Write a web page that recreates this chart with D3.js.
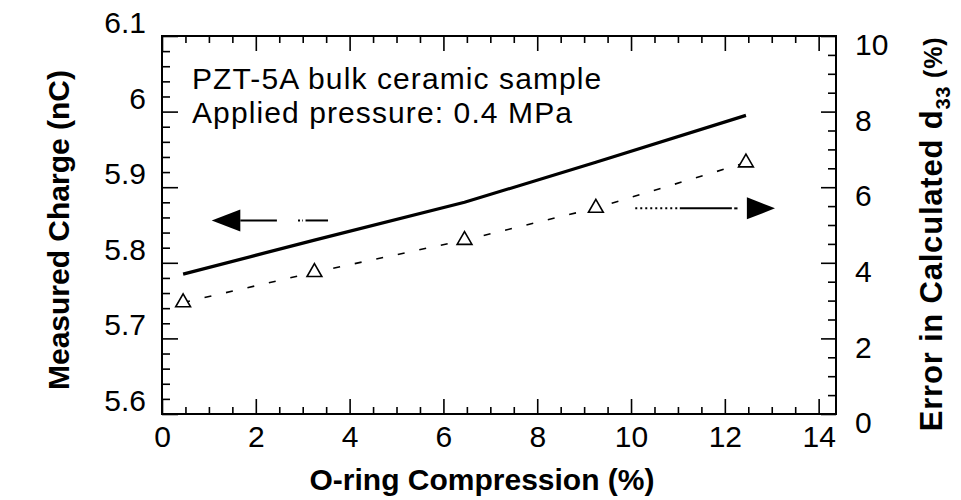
<!DOCTYPE html>
<html><head><meta charset="utf-8">
<script src="https://cdn.jsdelivr.net/npm/d3@7"></script>
<style>
body{margin:0;background:#fff}
text{font-family:"Liberation Sans",Arial,Helvetica,sans-serif;fill:#000}
</style>
</head><body>
<svg id="c" width="961" height="500"></svg>
<script>
// ---- data ----
const compression = [0.45, 3.25, 6.45, 9.25, 12.45];      // O-ring compression (%)
const measuredCharge = [5.785, 5.83, 5.88, 5.933, 5.995]; // nC (left axis, solid)
const errorD33 = [2.95, 3.75, 4.6, 5.45, 6.65];           // % (right axis, dashed + triangles)
const xTicks = [0, 2, 4, 6, 8, 10, 12, 14];
const yLeftTicks = [5.6, 5.7, 5.8, 5.9, 6, 6.1];
const yRightTicks = [0, 2, 4, 6, 8, 10];
const annotationLines = ["PZT-5A bulk ceramic sample", "Applied pressure: 0.4 MPa"];

// ---- layout ----
const L = 162, R = 836, T = 36, B = 414;
const svg = d3.select("#c");
const x = d3.scaleLinear().domain([0, 14.37]).range([L, R]);
const yL = d3.scaleLinear().domain([5.6, 6.1]).range([B, T]);
const yR = d3.scaleLinear().domain([0, 10]).range([B, T]);

const near = (v, arr) => arr.some(a => Math.abs(a - v) < 1e-6);
const xMinor = d3.range(0, 14.01, 0.5).map(v => +v.toFixed(2)).filter(v => !near(v, xTicks));
const yLMinor = d3.range(5.6, 6.1001, 0.02).map(v => +v.toFixed(2)).filter(v => !near(v, yLeftTicks));
const yRMinor = d3.range(0, 10.01, 0.5).map(v => +v.toFixed(2)).filter(v => !near(v, yRightTicks));

function styleAxis(g) {
  g.select(".domain").remove();
  g.selectAll(".tick line").attr("stroke", "#000").attr("stroke-width", 1.6);
  g.selectAll("text").style("font-size", "30px").attr("fill", "#000");
}

// bottom axis
svg.append("g").attr("transform", `translate(0,${B})`)
  .call(d3.axisBottom(x).tickValues(xTicks).tickSizeInner(-15).tickSizeOuter(0).tickPadding(12).tickFormat(d3.format("d")))
  .call(styleAxis).selectAll("text").attr("dy", "0.71em");
svg.append("g").attr("transform", `translate(0,${B})`)
  .call(d3.axisBottom(x).tickValues(xMinor).tickSizeInner(-7).tickSizeOuter(0).tickFormat(""))
  .call(styleAxis);
// top axis
svg.append("g").attr("transform", `translate(0,${T})`)
  .call(d3.axisTop(x).tickValues(xTicks).tickSizeInner(-15).tickSizeOuter(0).tickFormat(""))
  .call(styleAxis);
svg.append("g").attr("transform", `translate(0,${T})`)
  .call(d3.axisTop(x).tickValues(xMinor).tickSizeInner(-7).tickSizeOuter(0).tickFormat(""))
  .call(styleAxis);
// left axis
svg.append("g").attr("transform", `translate(${L},0)`)
  .call(d3.axisLeft(yL).tickValues(yLeftTicks).tickSizeInner(-16).tickSizeOuter(0).tickPadding(16).tickFormat(d => d3.format("")(d)))
  .call(styleAxis).selectAll("text").attr("dy", "-0.12em");
svg.append("g").attr("transform", `translate(${L},0)`)
  .call(d3.axisLeft(yL).tickValues(yLMinor).tickSizeInner(-8).tickSizeOuter(0).tickFormat(""))
  .call(styleAxis);
// right axis
svg.append("g").attr("transform", `translate(${R},0)`)
  .call(d3.axisRight(yR).tickValues(yRightTicks).tickSizeInner(-15).tickSizeOuter(0).tickPadding(19).tickFormat(d3.format("d")))
  .call(styleAxis).selectAll("text").attr("dy", "0.62em");
svg.append("g").attr("transform", `translate(${R},0)`)
  .call(d3.axisRight(yR).tickValues(yRMinor).tickSizeInner(-8).tickSizeOuter(0).tickFormat(""))
  .call(styleAxis);

// frame
svg.append("rect").attr("x", L).attr("y", T).attr("width", R - L).attr("height", B - T)
  .attr("fill", "none").attr("stroke", "#000").attr("stroke-width", 2);

// series
const pts = compression.map((c, i) => ({ c, q: measuredCharge[i], e: errorD33[i] }));
svg.append("path").datum(pts)
  .attr("d", d3.line().x(d => x(d.c)).y(d => yL(d.q)))
  .attr("fill", "none").attr("stroke", "#000").attr("stroke-width", 3.2);
svg.append("path").datum(pts)
  .attr("d", d3.line().x(d => x(d.c)).y(d => yR(d.e)))
  .attr("fill", "none").attr("stroke", "#000").attr("stroke-width", 1.6)
  .attr("stroke-dasharray", "7,15");
svg.selectAll(".tri").data(pts).enter().append("path")
  .attr("transform", d => `translate(${x(d.c)},${yR(d.e)})`)
  .attr("d", d3.symbol(d3.symbolTriangle).size(95))
  .attr("fill", "#fff").attr("stroke", "#000").attr("stroke-width", 1.6);

// arrows (annotation, in data units)
const leftArrow = { y: 5.856, tip: 1.06, base: 1.67, solidEnd: 2.45, dot: [2.9, 3.0], dash: [3.06, 3.54] };
const rightArrow = { y: 5.44, dotted: [10.09, 11.04], solid: [11.04, 12.15], dot: [12.2, 12.27], base: 12.47, tip: 13.07 };
const ay = yL(leftArrow.y);
svg.append("path").attr("d", `M${x(leftArrow.tip)},${ay}L${x(leftArrow.base)},${ay - 11}L${x(leftArrow.base)},${ay + 11}Z`).attr("fill", "#000");
svg.append("line").attr("x1", x(leftArrow.base)).attr("x2", x(leftArrow.solidEnd)).attr("y1", ay).attr("y2", ay).attr("stroke", "#000").attr("stroke-width", 2);
svg.append("line").attr("x1", x(leftArrow.dot[0])).attr("x2", x(leftArrow.dot[1])).attr("y1", ay).attr("y2", ay).attr("stroke", "#000").attr("stroke-width", 2).attr("stroke-dasharray", "2,2");
svg.append("line").attr("x1", x(leftArrow.dash[0])).attr("x2", x(leftArrow.dash[1])).attr("y1", ay).attr("y2", ay).attr("stroke", "#000").attr("stroke-width", 2);

const by = yR(rightArrow.y);
svg.append("line").attr("x1", x(rightArrow.dotted[0])).attr("x2", x(rightArrow.dotted[1])).attr("y1", by).attr("y2", by).attr("stroke", "#000").attr("stroke-width", 2).attr("stroke-dasharray", "2,3");
svg.append("line").attr("x1", x(rightArrow.solid[0])).attr("x2", x(rightArrow.solid[1])).attr("y1", by).attr("y2", by).attr("stroke", "#000").attr("stroke-width", 2);
svg.append("line").attr("x1", x(rightArrow.dot[0])).attr("x2", x(rightArrow.dot[1])).attr("y1", by).attr("y2", by).attr("stroke", "#000").attr("stroke-width", 2);
svg.append("path").attr("d", `M${x(rightArrow.tip)},${by}L${x(rightArrow.base)},${by - 11}L${x(rightArrow.base)},${by + 11}Z`).attr("fill", "#000");

// annotation text
svg.append("g").selectAll("text").data(annotationLines).enter().append("text")
  .attr("x", 192).attr("y", (d, i) => 89 + i * 34)
  .style("font-size", "30px").style("letter-spacing", "1.1px").text(d => d);

// axis titles
svg.append("text").attr("x", 482).attr("y", 490).attr("text-anchor", "middle")
  .style("font-size", "30px").style("font-weight", "bold").text("O-ring Compression (%)");
svg.append("text").attr("transform", "translate(69,230) rotate(-90)").attr("text-anchor", "middle")
  .style("font-size", "30px").style("font-weight", "bold").text("Measured Charge (nC)");
const rt = svg.append("text").attr("transform", "translate(942,234) rotate(-90)").attr("text-anchor", "middle")
  .style("font-size", "31px").style("font-weight", "bold").style("letter-spacing", "0.8px");
rt.append("tspan").text("Error in Calculated d");
rt.append("tspan").attr("dy", 8).style("font-size", "20px").text("33");
rt.append("tspan").attr("dy", -8).style("font-size", "25px").text(" (%)");
</script>
</body></html>
